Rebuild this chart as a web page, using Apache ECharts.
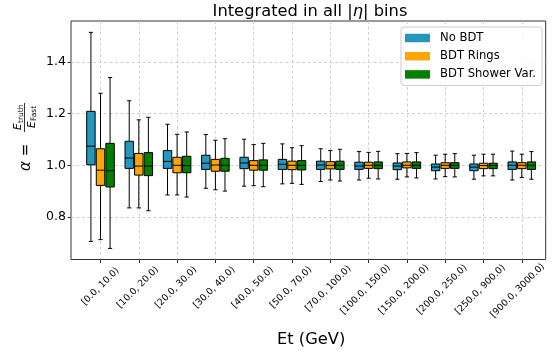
<!DOCTYPE html>
<html><head><meta charset="utf-8">
<script src="https://cdn.jsdelivr.net/npm/echarts@6/dist/echarts.min.js"></script>
<style>html,body{margin:0;padding:0;background:#fff}#c{width:554px;height:356px}</style>
</head><body><div id="c"></div>
<script>
// ---------------- data ----------------
const categories = ['[0.0, 10.0)','[10.0, 20.0)','[20.0, 30.0)','[30.0, 40.0)','[40.0, 50.0)','[50.0, 70.0)',
  '[70.0, 100.0)','[100.0, 150.0)','[150.0, 200.0)','[200.0, 250.0)','[250.0, 900.0)','[900.0, 3000.0)'];
const seriesNames = ['No BDT', 'BDT Rings', 'BDT Shower Var.'];
// each entry: [lower whisker, Q1, median, Q3, upper whisker]
const noBDT = [
  [0.705, 1.002, 1.074, 1.209, 1.515],
  [0.835, 0.988, 1.028, 1.093, 1.250],
  [0.885, 0.988, 1.015, 1.057, 1.159],
  [0.911, 0.984, 1.008, 1.039, 1.119],
  [0.919, 0.987, 1.009, 1.031, 1.101],
  [0.928, 0.984, 1.004, 1.023, 1.083],
  [0.937, 0.984, 1.001, 1.016, 1.064],
  [0.943, 0.984, 0.997, 1.012, 1.053],
  [0.946, 0.983, 0.997, 1.009, 1.045],
  [0.947, 0.979, 0.993, 1.005, 1.039],
  [0.946, 0.979, 0.993, 1.005, 1.039],
  [0.943, 0.984, 1.000, 1.013, 1.055]
];
const bdtRings = [
  [0.712, 0.922, 0.981, 1.064, 1.279],
  [0.835, 0.962, 0.997, 1.046, 1.176],
  [0.885, 0.971, 1.000, 1.031, 1.120],
  [0.905, 0.977, 1.001, 1.023, 1.097],
  [0.921, 0.981, 1.000, 1.018, 1.080],
  [0.930, 0.983, 1.000, 1.016, 1.068],
  [0.943, 0.986, 1.000, 1.014, 1.057],
  [0.950, 0.988, 1.000, 1.012, 1.050],
  [0.955, 0.990, 1.000, 1.013, 1.046],
  [0.956, 0.988, 1.000, 1.010, 1.043],
  [0.959, 0.987, 0.999, 1.008, 1.043],
  [0.953, 0.987, 1.000, 1.010, 1.043]
];
const bdtShower = [
  [0.678, 0.916, 0.979, 1.085, 1.340],
  [0.824, 0.960, 0.997, 1.049, 1.186],
  [0.877, 0.971, 0.999, 1.035, 1.129],
  [0.900, 0.977, 1.000, 1.027, 1.103],
  [0.917, 0.981, 1.000, 1.021, 1.085],
  [0.926, 0.982, 1.000, 1.018, 1.076],
  [0.939, 0.984, 1.000, 1.016, 1.062],
  [0.947, 0.987, 1.000, 1.013, 1.054],
  [0.951, 0.988, 1.000, 1.013, 1.049],
  [0.955, 0.988, 1.000, 1.010, 1.045],
  [0.959, 0.987, 0.999, 1.008, 1.043],
  [0.946, 0.984, 1.000, 1.013, 1.053]
];
const yTicks = [0.8, 1.0, 1.2, 1.4];
const yRange = [0.635, 1.559];

// ---------------- styling ----------------
const colors = ['#2596be', '#ffa500', '#008000'];
const FONT = 'DejaVu Sans';
const XLAB_FS = 9.3;
const gridColor = '#c6c6c6';

// x tick labels: matplotlib-style (rotated 45deg, bbox centred under tick, top-aligned)
const cv = document.createElement('canvas').getContext('2d');
cv.font = XLAB_FS + 'px "' + FONT + '"';
const widths = categories.map(c => cv.measureText(c).width);
const Lref = Math.min.apply(null, widths);
const H = XLAB_FS * 1.17;
const labelMargin = 6 + (Lref + H) / (2 * Math.SQRT2);
const catData = categories.map((c, i) => {
  const p = (widths[i] - Lref) / 2;
  return { value: c, textStyle: { padding: [p, p, 0, 0], align: 'center', verticalAlign: 'middle',
    fontSize: XLAB_FS, color: '#000', fontFamily: FONT } };
});

function makeRenderItem(offsetFrac) {
  return function (params, api) {
    const x = api.value(0);
    const band = api.size([1, 0])[0];
    const off = offsetFrac * band;
    const bw = band * 0.22;
    const cw = bw * 0.5;
    const pMin = api.coord([x, api.value(1)]);
    const pQ1 = api.coord([x, api.value(2)]);
    const pMed = api.coord([x, api.value(3)]);
    const pQ3 = api.coord([x, api.value(4)]);
    const pMax = api.coord([x, api.value(5)]);
    const cx = pMin[0] + off;
    const color = api.visual('color');
    const ls = { stroke: '#000', lineWidth: 1 };
    return {
      type: 'group',
      children: [
        { type: 'line', shape: { x1: cx, y1: pQ3[1], x2: cx, y2: pMax[1] }, style: ls },
        { type: 'line', shape: { x1: cx, y1: pQ1[1], x2: cx, y2: pMin[1] }, style: ls },
        { type: 'line', shape: { x1: cx - cw / 2, y1: pMax[1], x2: cx + cw / 2, y2: pMax[1] }, style: ls },
        { type: 'line', shape: { x1: cx - cw / 2, y1: pMin[1], x2: cx + cw / 2, y2: pMin[1] }, style: ls },
        { type: 'rect', shape: { x: cx - bw / 2, y: pQ3[1], width: bw, height: pQ1[1] - pQ3[1] },
          style: { fill: color, stroke: '#000', lineWidth: 1 } },
        { type: 'line', shape: { x1: cx - bw / 2, y1: pMed[1], x2: cx + bw / 2, y2: pMed[1] }, style: ls }
      ]
    };
  };
}

const allSeries = [noBDT, bdtRings, bdtShower];
const offsets = [-0.25, 0, 0.25];
const series = allSeries.map((arr, s) => ({
  name: seriesNames[s],
  type: 'custom',
  xAxisIndex: 1,
  yAxisIndex: 1,
  itemStyle: { color: colors[s] },
  encode: { x: 0, y: [1, 2, 3, 4, 5] },
  data: arr.map((d, i) => [i].concat(d)),
  renderItem: makeRenderItem(offsets[s]),
  z: 5
}));

function txt(x, y, text, size, opts) {
  opts = opts || {};
  return {
    type: 'text', x: x, y: y,
    style: Object.assign({
      text: text, fontSize: size, fontFamily: FONT, fill: '#000',
      align: opts.align || 'center', verticalAlign: opts.va || 'middle',
      textAlign: opts.align || 'center', textVerticalAlign: opts.va || 'middle',
      fontStyle: opts.italic ? 'italic' : 'normal'
    }, opts.extra || {})
  };
}

const chart = echarts.init(document.getElementById('c'), null, { renderer: 'canvas' });
chart.setOption({
  animation: false,
  backgroundColor: '#fff',
  textStyle: { fontFamily: FONT },
  grid: [
    { left: 71, top: 21, right: 8.3, bottom: 96.5, show: true, borderColor: '#333', borderWidth: 1,
      backgroundColor: 'transparent', z: 0, containLabel: false, outerBoundsMode: 'none' },
    { left: 100.5, top: 21, right: 32.2, bottom: 96.5, containLabel: false, outerBoundsMode: 'none' }
  ],
  xAxis: [
    { type: 'value', gridIndex: 0, show: false, min: 0, max: 1 },
    {
      type: 'category', gridIndex: 1, data: catData, boundaryGap: false,
      axisLine: { show: false },
      axisTick: { show: true, length: 3.5, alignWithLabel: true, lineStyle: { color: '#333', width: 1 } },
      splitLine: { show: true, lineStyle: { color: gridColor, type: [3, 2.5], width: 0.8 } },
      axisLabel: {
        interval: 0, rotate: 45, align: 'center', verticalAlign: 'middle',
        margin: labelMargin, fontSize: XLAB_FS, color: '#000', fontFamily: FONT
      },
      name: 'Et (GeV)', nameLocation: 'middle', nameGap: 72,
      nameTextStyle: { fontSize: 16.3, color: '#000', fontFamily: FONT }
    }
  ],
  yAxis: [
    {
      type: 'value', gridIndex: 0, min: yRange[0], max: yRange[1],
      axisLine: { show: false },
      axisTick: { show: true, length: 3.5, customValues: yTicks, lineStyle: { color: '#333' } },
      axisLabel: { customValues: yTicks, fontSize: 12.5, color: '#000', margin: 5, fontFamily: FONT,
        formatter: v => v.toFixed(1) },
      splitLine: { show: true, lineStyle: { color: gridColor, type: [3, 2.5], width: 0.8 } }
    },
    { type: 'value', gridIndex: 1, min: yRange[0], max: yRange[1], show: false, splitLine: { show: false } }
  ],
  legend: {
    orient: 'vertical', left: 401, top: 27,
    padding: [5, 6, 5, 4], itemGap: 6.2, itemWidth: 25, itemHeight: 8.5,
    backgroundColor: 'rgba(255,255,255,0.85)', borderColor: '#cccccc', borderWidth: 1, borderRadius: 3,
    icon: 'rect', itemStyle: { borderWidth: 0 },
    textStyle: { fontSize: 11.6, color: '#000', fontFamily: FONT, padding: [0, 0, 0, 5] },
    data: seriesNames
  },
  graphic: [
    {
      type: 'text', x: 310, y: 11.5,
      style: {
        text: 'Integrated in all |{i|η}| bins', fontSize: 16.3, fontFamily: FONT, fill: '#000',
        align: 'center', verticalAlign: 'middle', textAlign: 'center', textVerticalAlign: 'middle',
        rich: { i: { fontStyle: 'italic', fontSize: 16.3, fontFamily: FONT } }
      }
    },
    {
      type: 'group', x: 26.5, y: 136, rotation: Math.PI / 2,
      children: [
        txt(-30, 0, 'α', 15, { italic: true }),
        txt(-14, 0, '=', 15),
        { type: 'line', shape: { x1: 4, y1: -2, x2: 33, y2: -2 }, style: { stroke: '#000', lineWidth: 0.8 } },
        txt(6, -3, 'E', 10.5, { italic: true, align: 'left', va: 'bottom' }),
        txt(13, -1.5, 'truth', 7.5, { align: 'left', va: 'bottom' }),
        txt(8, 0, 'E', 10.5, { italic: true, align: 'left', va: 'top' }),
        txt(15, 3.5, 'Fast', 7.5, { align: 'left', va: 'top' })
      ]
    }
  ],
  series: series
});
</script>
</body></html>
